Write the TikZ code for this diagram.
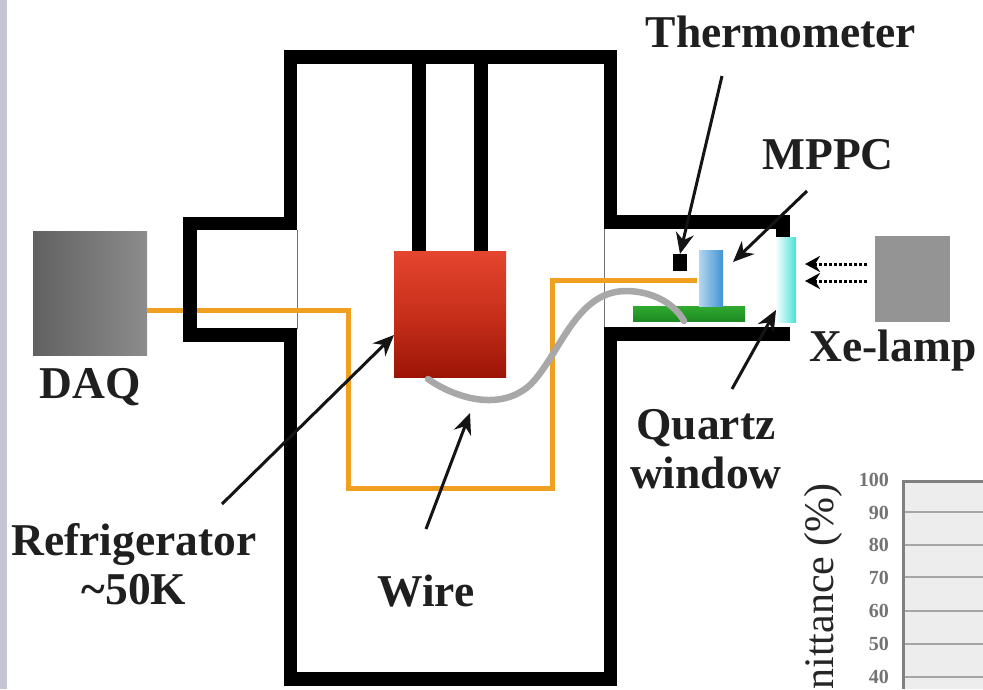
\documentclass[tikz,border=0pt]{standalone}
\usepackage{fontspec}
\setmainfont{Liberation Serif}
\usetikzlibrary{arrows.meta}
\definecolor{wireorange}{HTML}{F0A020}
\definecolor{wiregrey}{HTML}{A8A8A8}
\definecolor{stripgrey}{HTML}{C4C4D4}
\definecolor{redtop}{HTML}{E5452F}
\definecolor{redmid}{HTML}{C8301C}
\definecolor{redbot}{HTML}{9C1406}
\definecolor{mppcL}{HTML}{B4D6F0}
\definecolor{mppcR}{HTML}{3F93D2}
\definecolor{quartzR}{HTML}{48E2D4}
\definecolor{boardT}{HTML}{2FAA2F}
\definecolor{boardB}{HTML}{1F8A24}
\tikzset{
  x=1pt,y=-1pt,
  wallline/.style={line width=13.5pt,black,line join=miter,line cap=butt},
  thin wall/.style={line width=0.6pt,black!55},
  sig/.style={line width=5pt,wireorange,line join=miter},
  label/.style={font=\bfseries\fontsize{45.5}{50}\selectfont,text=black!88,inner sep=0pt,align=center},
  pointer/.style={line width=3pt,black!92,-{Stealth[length=21pt,width=18pt]}},
  lightray/.style={line width=3pt,black,dotted,-{Stealth[length=15pt,width=16pt]}},
  boxnode/.style={inner sep=0pt,outer sep=0pt,anchor=north west,minimum width=#1},
  ticklbl/.style={font=\bfseries\fontsize{20}{20}\selectfont,text=black!55,inner sep=0pt,anchor=east},
  gridline/.style={line width=2.5pt,black!35},
}
\begin{document}
\begin{tikzpicture}
\useasboundingbox (0,0) rectangle (983,689);
\fill[white] (0,0) rectangle (983,689);
\fill[stripgrey] (0,0) rectangle (7,689);

% chart fragment
\fill[black!7] (903,481) rectangle (983,689);
\foreach \y in {512,545,577,611,644,677}{\draw[gridline] (903,\y) -- (983,\y);}
\draw[line width=3pt,black!50] (983,481) -- (903,481) -- (903,689);
\foreach \y/\t in {480/100,513/90,545/80,578/70,611/60,644/50,677/40}{\node[ticklbl] at (889,\y) {\t};}
\node[font=\fontsize{42}{42}\selectfont,text=black!85,rotate=90,anchor=north east,inner sep=0pt] at (804,483) {nittance (\%)};

% thin inner walls of the ports
\draw[thin wall] (297,230) -- (297,329);
\draw[thin wall] (604,229) -- (604,327);

% orange cable
\node[boxnode=114pt,minimum height=124pt,left color=black!62,right color=black!45,draw=none] (daq) at (33,231) {};
\coordinate (sensorend) at (697,280);
\draw[sig] (daq.east |- 0,310) -- (348,310) -- (348,488) -- (552,488) -- (552,280) -- (sensorend);

% vessel
\draw[wallline] (290.5,230) -- (290.5,57) -- (610.5,57) -- (610.5,222) -- (790,222);
\draw[wallline] (297,223.5) -- (190,223.5) -- (190,335) -- (290.5,335) -- (290.5,679) -- (610.5,679) -- (610.5,334) -- (790,334);
\draw[line width=14pt] (419,60) -- (419,252);
\draw[line width=14pt] (481,60) -- (481,252);

% inside
\node[boxnode=112pt,minimum height=126pt,top color=redtop,bottom color=redbot,middle color=redmid,draw=none] (fridge) at (394,251) {};
\node[boxnode=112pt,minimum height=15pt,top color=boardT,bottom color=boardB,draw=none] (board) at (633,306) {};
\node[boxnode=24pt,minimum height=56pt,left color=mppcL,right color=mppcR,draw=none] (mppc) at (699,250) {};
\node[boxnode=14pt,minimum height=17pt,fill=black] (thermo) at (673,254) {};
\node[boxnode=21pt,minimum height=85pt,left color=white,right color=quartzR,draw=none] (quartz) at (775,237) {};
\node[boxnode=75pt,minimum height=86pt,fill=black!42,draw=none] (lamp) at (875,236) {};
\fill (776,215) rectangle (790,237);

\draw[line width=6.5pt,wiregrey,line cap=round] (428,379) .. controls (455,398) and (500,412) .. (530,385) .. controls (560,355) and (575,292) .. (625,291) .. controls (655,291) and (675,305) .. (684,321);

% labels
\node[label] (tThermo) at (781,32) {Thermometer};
\node[label] (tMPPC) at (828,155) {MPPC};
\node[label] (tXe) at (893,351) {Xe-lamp};
\node[label] (tQuartz) at (706,449) {Quartz\\[-1pt]window};
\node[label] (tDAQ) at (90,387) {DAQ};
\node[label] (tFridge) at (134,564) {Refrigerator\\[-1pt]\textasciitilde 50K};
\node[label] (tWire) at (426,591) {Wire};

% pointers
\coordinate (a1s) at (722,76);  \coordinate (a2s) at (807,191);
\coordinate (a2e) at (733,262); \coordinate (a3s) at (732,389);
\coordinate (a3e) at (776,310); \coordinate (a4s) at (222,504);
\coordinate (a4e) at (394,335); \coordinate (a5s) at (426,529);
\coordinate (a5e) at (470,413);
\draw[pointer] (a1s) -- (thermo.north);
\draw[pointer] (a2s) -- (a2e);
\draw[pointer] (a3s) -- (a3e);
\draw[pointer] (a4s) -- (a4e);
\draw[pointer] (a5s) -- (a5e);
\coordinate (r1) at (805,264); \coordinate (r2) at (805,281);
\draw[lightray] (lamp.west |- r1) ++(-8,0) -- (r1);
\draw[lightray] (lamp.west |- r2) ++(-8,0) -- (r2);
\end{tikzpicture}
\end{document}
